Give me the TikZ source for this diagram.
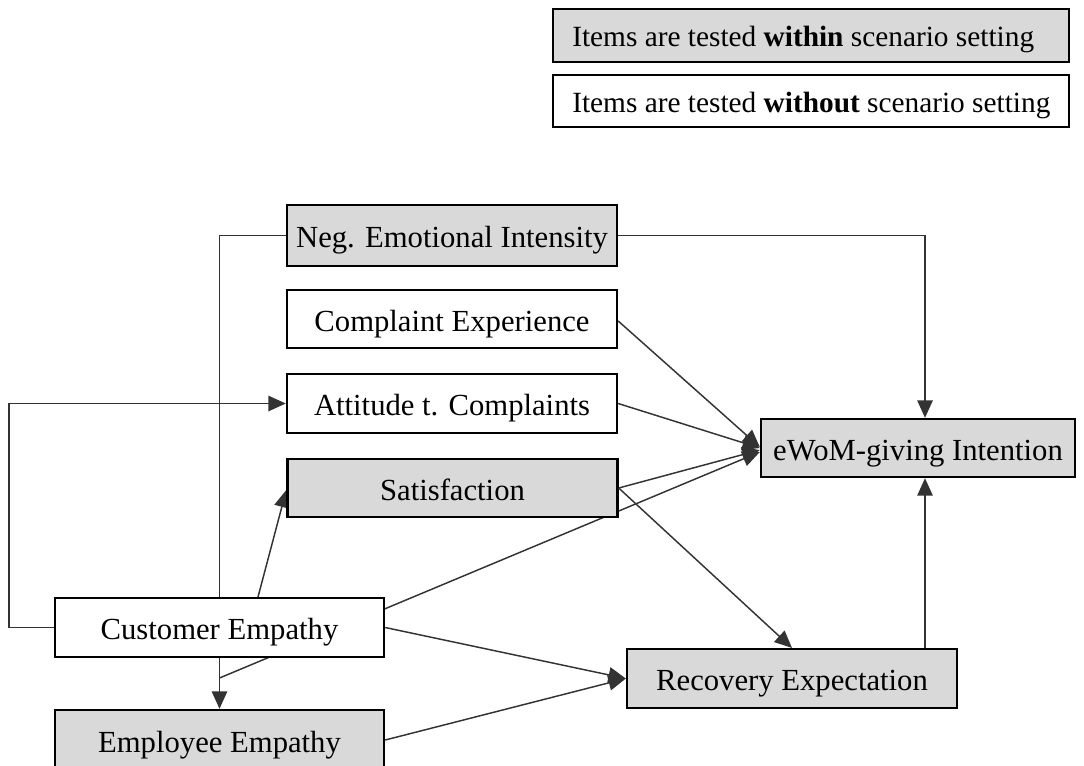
\documentclass[tikz,border=0pt]{standalone}
\usepackage{fontspec}
\setmainfont{Liberation Serif}
\usetikzlibrary{arrows.meta,calc,backgrounds}
\begin{document}
\begin{tikzpicture}[x=0.75pt,y=-0.75pt,
  box/.style={draw=black,line width=1.8pt,minimum width=247.5pt,minimum height=44pt,inner sep=0pt,
    text height=18pt,text depth=0pt,font=\fontsize{23}{27}\selectfont},
  gbox/.style={box,fill=boxgray},
  wbox/.style={box,fill=white},
  conn/.style={draw=black!80,line width=1.1pt},
  arr/.style={conn,-{Triangle[length=13pt,width=11.5pt]}},
  legtext/.style={anchor=west,inner sep=0pt,text height=17pt,text depth=0pt,font=\fontsize{22}{26}\selectfont}
]
\definecolor{boxgray}{HTML}{D9D9D9}
\useasboundingbox (0,0) rectangle (1084,765);
\clip (0,0) rectangle (1084,765);

% legend
\node[draw=black,line width=1.8pt,fill=boxgray,minimum width=387pt,minimum height=39.5pt,inner sep=0pt] (leg1) at (811,35.5) {};
\node[legtext] (leg1t) at (572,35.5) {Items are tested \textbf{within} scenario setting};
\node[draw=black,line width=1.8pt,fill=white,minimum width=387pt,minimum height=39pt,inner sep=0pt] (leg2) at (811,101) {};
\node[legtext] (leg2t) at (572,101) {Items are tested \textbf{without} scenario setting};

% nodes
\node[gbox,minimum height=45.5pt] (neg) at (452,235.5) {Neg. Emotional Intensity};
\node[wbox,minimum height=43.5pt] (comp) at (452,319) {Complaint Experience};
\node[wbox] (att) at (452,403.5) {Attitude t. Complaints};
\node[gbox,minimum height=43.5pt] (sat) at (452.5,488) {Satisfaction};
\node[wbox,minimum width=246.75pt] (cust) at (219.5,627.5) {Customer Empathy};
\node[gbox,minimum width=246.75pt,minimum height=45pt] (emp) at (219.5,740) {Employee Empathy};
\node[gbox] (rec) at (792,678.5) {Recovery Expectation};
\node[gbox,minimum width=235.5pt,minimum height=43.5pt] (ewom) at (918,448) {eWoM-giving Intention};

\coordinate (vx) at (925,0);
\coordinate (j) at (219.5,678);

\begin{scope}[on background layer]
  \draw[arr] (neg.west) -| (emp.north);
  \draw[arr] (j) -- ($(ewom.west)+(0,4)$);
  \draw[arr] ($(cust.north)+(38.5,0)$) -- ($(sat.west)+(0,2)$);
\end{scope}

% connectors
\draw[arr] (neg.east) -| (ewom.north -| vx);
\draw[arr] ($(comp.east)+(0,2)$) -- ($(ewom.west)+(0,-1)$);
\draw[arr] (att.east) -- ($(ewom.west)+(0,0)$);
\draw[arr] (sat.east) -- ($(ewom.west)+(0,2)$);
\draw[arr] (sat.east) -- (rec.north);
\draw[arr] (cust.west) -- ++(-45,0) |- (att.west);
\draw[arr] (cust.east) -- (rec.west);
\draw[arr] (emp.east) -- (rec.west);
\draw[arr] (rec.north -| vx) -- (ewom.south -| vx);
\end{tikzpicture}
\end{document}
